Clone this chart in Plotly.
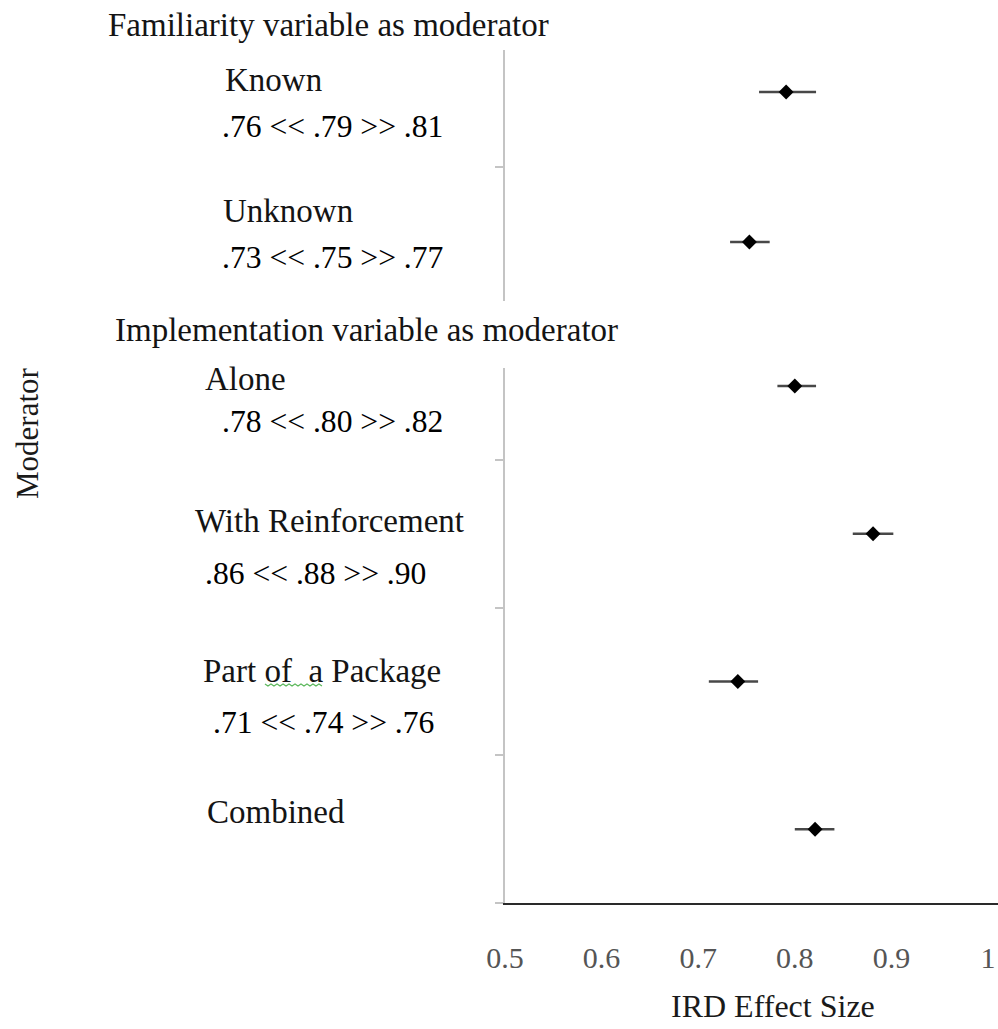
import plotly.graph_objects as go

# ---------------- data ----------------
fam_labels = ["Known", "Unknown"]
fam_est = [0.791, 0.753]
fam_lo = [0.763, 0.733]
fam_hi = [0.822, 0.774]
fam_ci_text = [".76 << .79 >> .81", ".73 << .75 >> .77"]

imp_labels = ["Alone", "With Reinforcement", "Part of  a Package", "Combined"]
imp_est = [0.800, 0.881, 0.741, 0.821]
imp_lo = [0.782, 0.860, 0.711, 0.800]
imp_hi = [0.822, 0.902, 0.762, 0.841]
imp_ci_text = [".78 << .80 >> .82", ".86 << .88 >> .90", ".71 << .74 >> .76", ""]

x_ticks = [0.5, 0.6, 0.7, 0.8, 0.9, 1.0]
x_tick_text = ["0.5", "0.6", "0.7", "0.8", "0.9", "1"]

# ---------------- layout helpers ----------------
W, H = 998, 1029
SERIF = "Liberation Serif"


def px_x(p):
    return p / W


def px_y(p):
    return 1 - p / H


fam_y = [len(fam_labels) - i for i in range(len(fam_labels))]   # 2, 1
imp_y = [len(imp_labels) - i for i in range(len(imp_labels))]   # 4..1

fig = go.Figure()

err_style = dict(type="data", symmetric=False, color="#484848", thickness=2.5, width=0)
mk = dict(symbol="diamond", size=11.5, color="black")

fig.add_trace(go.Scatter(
    x=fam_est, y=fam_y, mode="markers", marker=mk,
    error_x=dict(array=[h - e for h, e in zip(fam_hi, fam_est)],
                 arrayminus=[e - l for e, l in zip(fam_est, fam_lo)], **err_style),
    xaxis="x", yaxis="y", showlegend=False, hoverinfo="skip"))

fig.add_trace(go.Scatter(
    x=imp_est, y=imp_y, mode="markers", marker=mk,
    error_x=dict(array=[h - e for h, e in zip(imp_hi, imp_est)],
                 arrayminus=[e - l for e, l in zip(imp_est, imp_lo)], **err_style),
    xaxis="x", yaxis="y2", showlegend=False, hoverinfo="skip"))

# text annotations (positions in page pixels)
ann = []
LABEL_SIZE = 33
NUM_SIZE = 31.6


def add_text(txt, left, cy, size=LABEL_SIZE, color="#141414", **kw):
    ann.append(dict(text=txt, x=px_x(left), y=px_y(cy), xref="paper", yref="paper",
                    xanchor="left", yanchor="middle", showarrow=False,
                    font=dict(family=SERIF, size=size, color=color), **kw))


add_text("Familiarity variable as moderator", 106, 25)
add_text("Implementation variable as moderator", 113, 330)

fam_label_pos = [(223, 80), (221, 211)]
fam_ci_pos = [(220, 126), (220, 257)]
for lab, ci, lp, cp in zip(fam_labels, fam_ci_text, fam_label_pos, fam_ci_pos):
    add_text(lab, *lp)
    if ci:
        add_text(ci, *cp, size=NUM_SIZE, color="black")

imp_label_pos = [(203, 379), (193, 521), (201, 671), (205, 812)]
imp_ci_pos = [(220, 421), (203, 573), (211, 722), (211, 860)]
for lab, ci, lp, cp in zip(imp_labels, imp_ci_text, imp_label_pos, imp_ci_pos):
    add_text(lab, *lp)
    if ci:
        add_text(ci, *cp, size=NUM_SIZE, color="black")

# axis titles
ann.append(dict(text="Moderator", x=px_x(27), y=px_y(433), xref="paper", yref="paper",
                xanchor="center", yanchor="middle", showarrow=False, textangle=-90,
                font=dict(family=SERIF, size=31, color="#1a1a1a")))
ann.append(dict(text="IRD Effect Size", x=px_x(773), y=px_y(1006), xref="paper", yref="paper",
                xanchor="center", yanchor="middle", showarrow=False,
                font=dict(family=SERIF, size=32, color="#1a1a1a")))

top_px, top_bot = 50, 301
fam_spacing = 150.0
fam_first_px = 92
y_top_range = [1 - (top_bot - (fam_first_px + fam_spacing)) / fam_spacing,
               2 + (fam_first_px - top_px) / fam_spacing]

imp_top, imp_bot = 368, 903
imp_spacing = 147.7
y2_range = [0.5, 0.5 + (imp_bot - imp_top) / imp_spacing]

yax_common = dict(showline=True, linecolor="#c4c4c4", linewidth=2, ticks="outside",
                  ticklen=8, tickcolor="#c4c4c4", tickwidth=1.5, showticklabels=False,
                  showgrid=False, zeroline=False, fixedrange=True, automargin=False)

# spell-check squiggle under "of" (as in the source screenshot)
squiggle_path = f"M {265 / W:.4f},{px_y(684):.4f} " + " ".join(
    f"L {(265 + 3 * i) / W:.4f},{px_y(684 + (2 if i % 2 else 0)):.4f}" for i in range(1, 20))

fig.update_layout(
    template="none",
    width=W, height=H,
    margin=dict(l=0, r=0, t=0, b=0, pad=0, autoexpand=False),
    paper_bgcolor="white", plot_bgcolor="white",
    font=dict(family=SERIF),
    xaxis=dict(domain=[505 / W, 1.0], range=[0.5, 0.5 + (W - 505) / 966.0],
               anchor="y2", showline=True, linecolor="#2a2a2a", linewidth=2,
               tickvals=x_ticks, ticktext=x_tick_text, ticks="",
               ticklabelstandoff=27, automargin=False,
               tickfont=dict(family=SERIF, size=30, color="#555"),
               showgrid=False, zeroline=False),
    yaxis=dict(domain=[px_y(top_bot), px_y(top_px)], range=y_top_range,
               tickvals=[1.5], anchor="x", **yax_common),
    yaxis2=dict(domain=[px_y(imp_bot), px_y(imp_top)], range=y2_range,
                tickvals=[0.5, 1.5, 2.5, 3.5], anchor="x", **yax_common),
    annotations=ann,
    shapes=[dict(type="path", xref="paper", yref="paper", path=squiggle_path,
                 line=dict(color="#5cb85c", width=1.2))],
)

fig.write_html("out.html")
